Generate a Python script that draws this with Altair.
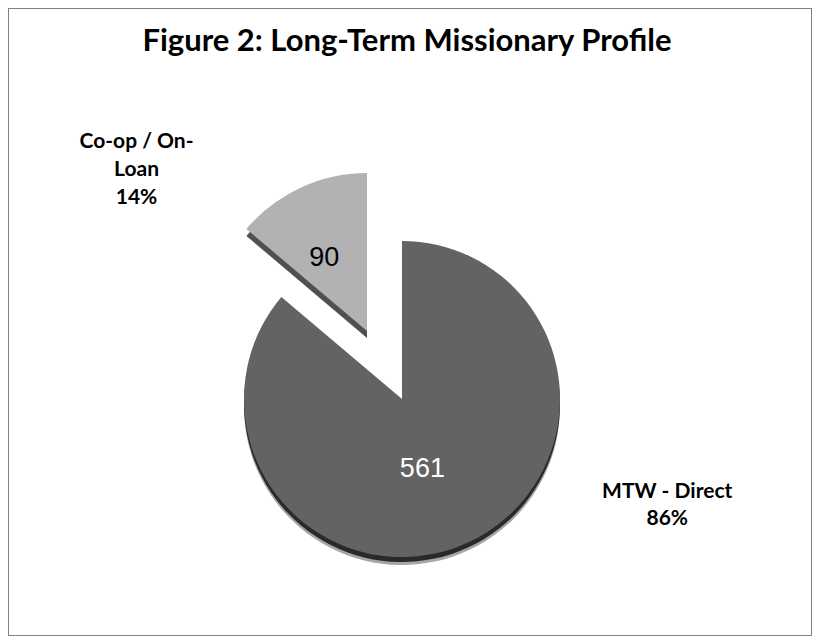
import altair as alt
import pandas as pd

# ---- data ----
categories = ["MTW - Direct", "Co-op / On-Loan"]
values = [561, 90]
slice_order = [1, 2]
value_labels = ["561", "90"]
outside_labels = [["MTW - Direct", "86%"], ["Co-op / On-", "Loan", "14%"]]

df = pd.DataFrame({
    "cat": categories,
    "value": values,
    "order": slice_order,
    "vlabel": value_labels,
    "olabel": outside_labels,
})

# ---- layout / style ----
W, H = 804, 628
CX, CY = 394, 391          # pie centre (view coords)
EX, EY = CX - 35, CY - 68  # exploded slice centre
R = 158

is_big = alt.datum.cat == "MTW - Direct"
show_big = alt.condition(is_big, alt.value(1), alt.value(0))
show_small = alt.condition(is_big, alt.value(0), alt.value(1))

base = alt.Chart(df).encode(
    theta=alt.Theta("value:Q", stack=True),
    order=alt.Order("order:Q"),
)

big_shadow2 = base.mark_arc(radius=R, color="#000000").encode(
    x=alt.value(CX), y=alt.value(CY + 8), opacity=alt.condition(is_big, alt.value(0.35), alt.value(0)))
big_shadow = base.mark_arc(radius=R, color="#2a2a2a").encode(
    x=alt.value(CX), y=alt.value(CY + 5), opacity=show_big)
big = base.mark_arc(radius=R, color="#636363").encode(
    x=alt.value(CX), y=alt.value(CY), opacity=show_big)

small_shadow = base.mark_arc(radius=R, color="#505050").encode(
    x=alt.value(EX), y=alt.value(EY + 7), opacity=show_small)
small = base.mark_arc(radius=R, color="#b2b2b2").encode(
    x=alt.value(EX), y=alt.value(EY), opacity=show_small)

big_label = base.mark_text(radius=77, dx=-12, font="Liberation Sans", fontSize=27,
                           color="white", align="center", baseline="middle").encode(
    x=alt.value(CX), y=alt.value(CY), text="vlabel:N", opacity=show_big)
small_label = base.mark_text(radius=80, dx=-9, font="Liberation Sans", fontSize=27,
                             color="black", align="center", baseline="middle").encode(
    x=alt.value(EX), y=alt.value(EY), text="vlabel:N", opacity=show_small)

big_out = base.mark_text(radius=117, dx=216, dy=-13, font="Lato", fontSize=21, fontWeight="bold",
                         lineHeight=27, color="black", align="center", baseline="middle").encode(
    x=alt.value(CX), y=alt.value(CY), text="olabel", opacity=show_big)
small_out = base.mark_text(radius=177, dx=-156, dy=-28, font="Lato", fontSize=21, fontWeight="bold",
                           lineHeight=28, color="black", align="center", baseline="middle").encode(
    x=alt.value(EX), y=alt.value(EY), text="olabel", opacity=show_small)

chart = alt.layer(
    big_shadow2, big_shadow, big, small_shadow, small,
    big_label, small_label, big_out, small_out,
).properties(
    width=W, height=H,
    autosize="none", padding=0,
    title=alt.TitleParams(
        "Figure 2: Long-Term Missionary Profile",
        font="Lato", fontSize=31, fontWeight="bold", color="black",
        anchor="middle", baseline="alphabetic", offset=-44, dx=-3, dy=30,
    ),
).configure_view(stroke="#808080", strokeWidth=2)

chart.save("out.html", embed_options={"renderer": "svg", "actions": False})
